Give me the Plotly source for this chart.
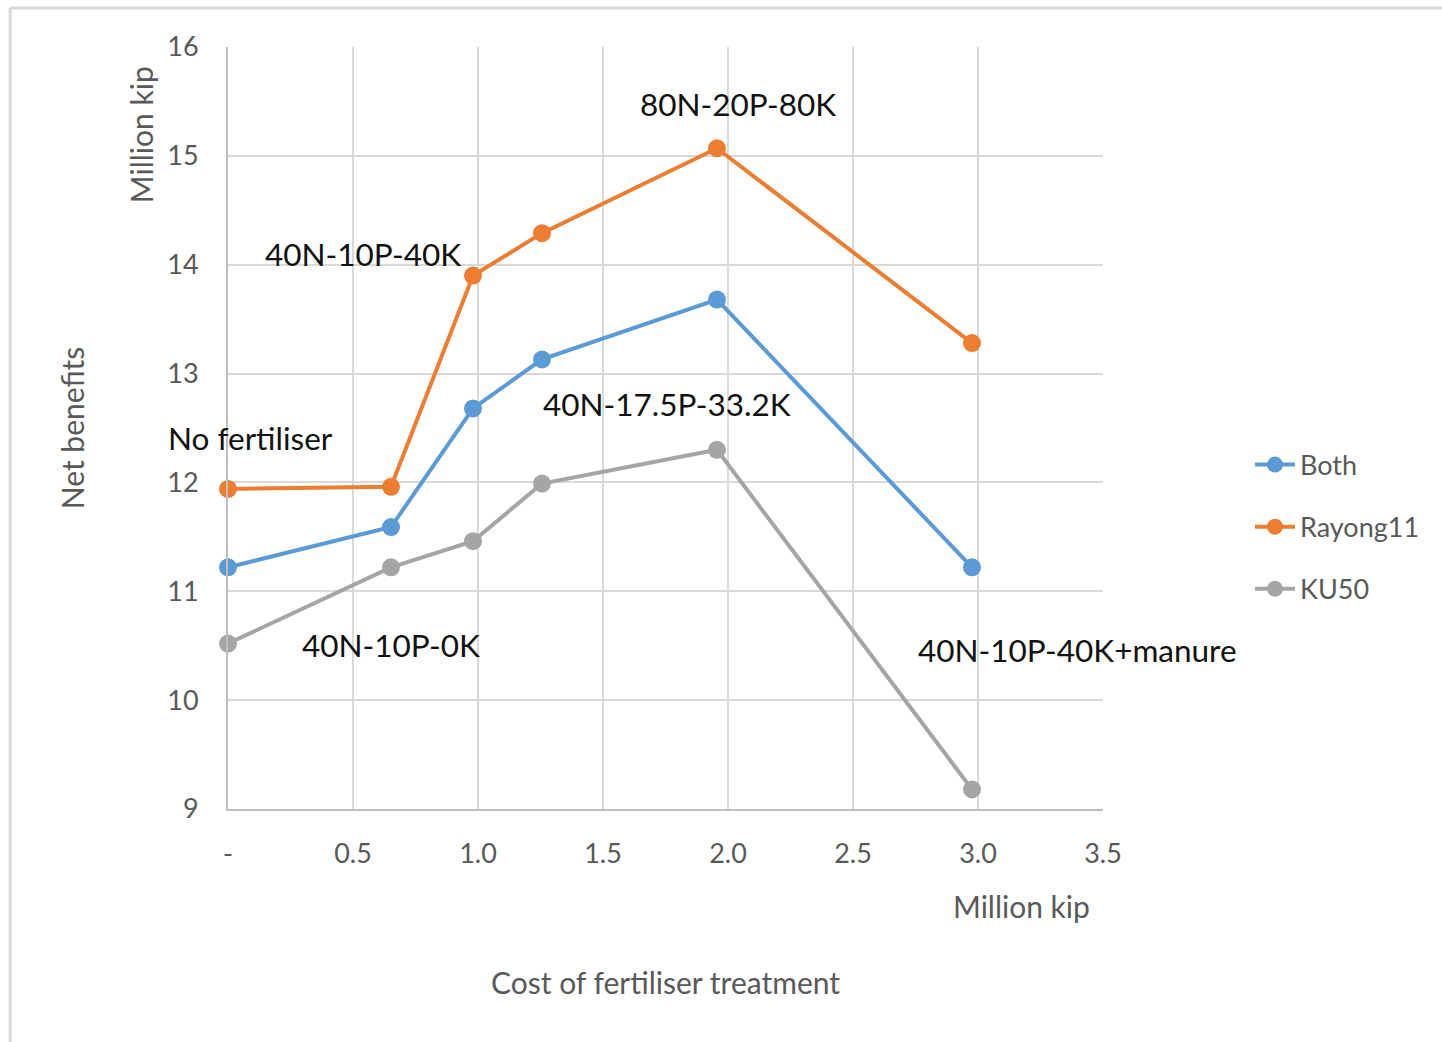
import plotly.graph_objects as go

# Cost of fertiliser treatment (million kip) and net benefits (million kip)
cost = [0.0, 0.652, 0.98, 1.256, 1.956, 2.976]
both = [11.22, 11.59, 12.68, 13.13, 13.68, 11.22]
rayong11 = [11.94, 11.96, 13.90, 14.29, 15.07, 13.28]
ku50 = [10.52, 11.22, 11.46, 11.99, 12.30, 9.18]

x_tickvals = [0, 0.5, 1.0, 1.5, 2.0, 2.5, 3.0, 3.5]
x_ticktext = ["-", "0.5", "1.0", "1.5", "2.0", "2.5", "3.0", "3.5"]
y_tickvals = [9, 10, 11, 12, 13, 14, 15, 16]

# Treatment labels: (text, x, y)
treatments = [
    ("80N-20P-80K", 2.04, 15.48),
    ("40N-10P-40K", 0.54, 14.10),
    ("No fertiliser", 0.09, 12.41),
    ("40N-17.5P-33.2K", 1.756, 12.72),
    ("40N-10P-0K", 0.652, 10.51),
    ("40N-10P-40K+manure", 3.396, 10.46),
]

FONT = "Lato, 'Open Sans', sans-serif"
GREY_TEXT = "#595959"

series = [
    ("Both", both, "#5B9BD5"),
    ("Rayong11", rayong11, "#ED7D31"),
    ("KU50", ku50, "#A5A5A5"),
]

fig = go.Figure()
for name, vals, color in series:
    fig.add_trace(go.Scatter(
        x=cost, y=vals, name=name, mode="lines+markers",
        line=dict(color=color, width=4),
        marker=dict(color=color, size=18),
        legendgroup=name, cliponaxis=False,
    ))

annotations = []
for text, x, y in treatments:
    annotations.append(dict(
        text=text, x=x, y=y, xref="x", yref="y", showarrow=False,
        font=dict(family=FONT, size=31.5, color="#111111"),
        xanchor="center", yanchor="middle",
    ))

# Axis titles
title_font = dict(family=FONT, size=30, color=GREY_TEXT)
annotations += [
    dict(text="Million kip", x=-0.1, y=0.885, xref="paper", yref="paper",
         textangle=-90, showarrow=False, xanchor="center", yanchor="middle",
         font=title_font),
    dict(text="Net benefits", x=-0.178, y=0.5, xref="paper", yref="paper",
         textangle=-90, showarrow=False, xanchor="center", yanchor="middle",
         font=title_font),
    dict(text="Million kip", x=0.907, y=-0.127, xref="paper", yref="paper",
         showarrow=False, xanchor="center", yanchor="middle",
         font=title_font),
    dict(text="Cost of fertiliser treatment", x=0.5, y=-0.227,
         xref="paper", yref="paper", showarrow=False,
         xanchor="center", yanchor="middle", font=title_font),
]

# Outer frame along the top and left edges
shapes = [
    dict(type="line", xref="paper", yref="paper", x0=-0.249, x1=1.45,
         y0=1.0512, y1=1.0512, line=dict(color="#D9D9D9", width=3)),
    dict(type="line", xref="paper", yref="paper", x0=-0.249, x1=-0.249,
         y0=-0.32, y1=1.0512, line=dict(color="#D9D9D9", width=3)),
]

fig.update_layout(
    width=1442, height=1042,
    margin=dict(l=228, r=339, t=47, b=233),
    paper_bgcolor="white", plot_bgcolor="white",
    font=dict(family=FONT, color=GREY_TEXT),
    annotations=annotations, shapes=shapes,
    showlegend=True,
    legend=dict(
        x=1.168, y=0.37, xanchor="left", yanchor="middle",
        font=dict(family=FONT, size=27, color=GREY_TEXT),
        tracegroupgap=24, itemwidth=40,
        bgcolor="rgba(0,0,0,0)",
    ),
)

tick_font = dict(family=FONT, size=27, color=GREY_TEXT)
fig.update_xaxes(
    range=[0, 3.5], tickvals=x_tickvals, ticktext=x_ticktext,
    showgrid=True, gridcolor="#D9D9D9", gridwidth=2,
    showline=True, linecolor="#BFBFBF", linewidth=2, mirror=False,
    zeroline=False, ticks="", ticklabelstandoff=20,
    tickfont=tick_font,
)
fig.update_yaxes(
    range=[9, 16], tickvals=y_tickvals,
    showgrid=True, gridcolor="#D9D9D9", gridwidth=2,
    showline=True, linecolor="#BFBFBF", linewidth=2,
    zeroline=False, ticks="", ticklabelstandoff=22,
    tickfont=tick_font,
)

fig.write_html("out.html")
